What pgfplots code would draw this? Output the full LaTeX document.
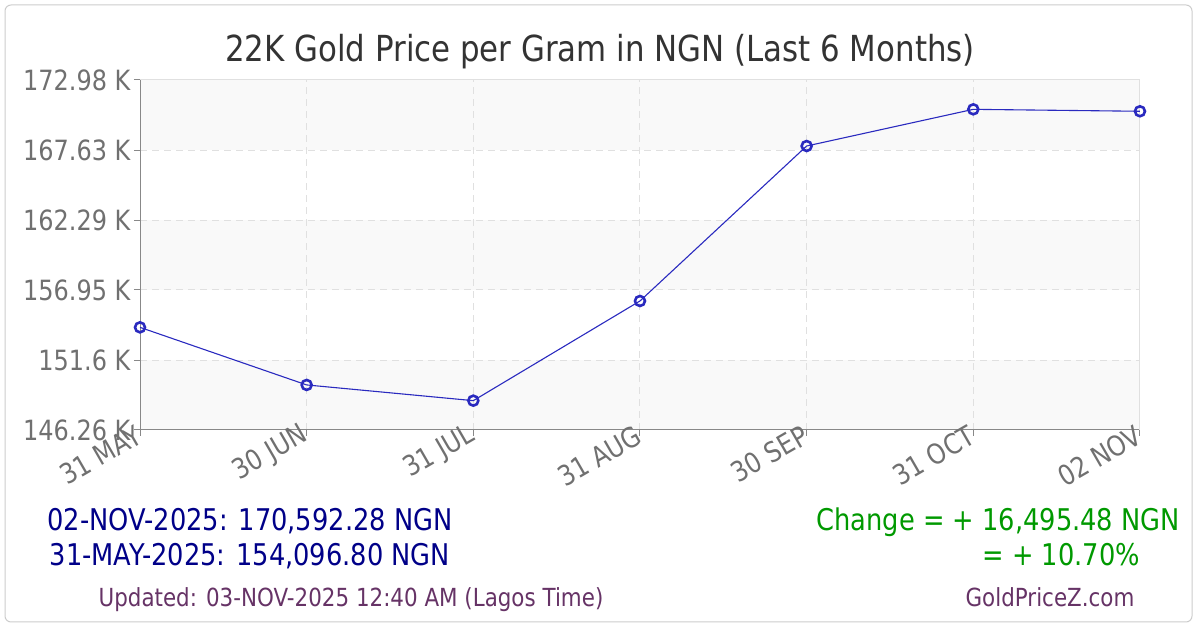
\documentclass[border=0pt]{standalone}
\usepackage{pgfplots}
\pgfplotsset{compat=1.18}
\usepackage{fontspec}
\setmainfont{DejaVu Sans}[FakeStretch=0.86]

\definecolor{ticktext}{HTML}{707070}
\definecolor{titletext}{HTML}{333333}
\definecolor{bandgray}{HTML}{F9F9F9}
\definecolor{gridgray}{HTML}{E0E0E0}
\definecolor{axisgray}{HTML}{888888}
\definecolor{framegray}{HTML}{CCCCCC}
\definecolor{linecol}{HTML}{2A2ABF}
\definecolor{navytext}{HTML}{000088}
\definecolor{greentext}{HTML}{009900}
\definecolor{purpletext}{HTML}{663366}

\pgfplotstableread{
x price
0 154.0968
1 149.70
2 148.50
3 156.11
4 167.94
5 170.74
6 170.5923
}\goldprice

\pgfplotsset{
  goldframe/.style={
    at={(140bp,200bp)}, anchor=south west,
    scale only axis,
    width=1000bp, height=350bp,
    xmin=0, xmax=6,
    ymin=146.26, ymax=172.98,
  },
}

\begin{document}
\begin{tikzpicture}
  \path[use as bounding box] (0,0) rectangle (1200bp,630bp);
  \draw[framegray, line width=1bp, rounded corners=6bp] (5bp,8bp) rectangle (1192bp,625bp);

  \node[anchor=base, text=titletext, font=\fontsize{36}{40}\selectfont]
    at (600bp,568bp) {22K Gold Price per Gram in NGN (Last 6 Months)};

  % background bands, drawn first so the grid lies over them
  \begin{axis}[goldframe, hide axis]
    \fill[bandgray] (axis cs:0,167.63) rectangle (axis cs:6,172.98);
    \fill[bandgray] (axis cs:0,156.95) rectangle (axis cs:6,162.29);
    \fill[bandgray] (axis cs:0,146.26) rectangle (axis cs:6,151.6);
  \end{axis}

  \begin{axis}[
    goldframe,
    clip=false,
    axis lines*=left,
    axis line style={axisgray, line width=1bp},
    xtick={0,1,2,3,4,5,6},
    xticklabels={31 MAY,30 JUN,31 JUL,31 AUG,30 SEP,31 OCT,02 NOV},
    ytick={146.26,151.6,156.95,162.29,167.63,172.98},
    yticklabels={146.26 K,151.6 K,156.95 K,162.29 K,167.63 K,172.98 K},
    tick align=outside,
    major tick length=6bp,
    tick style={axisgray, line width=1bp},
    xticklabel style={rotate=30, anchor=east, text=ticktext,
      font=\fontsize{28}{30}\selectfont, yshift=3bp, xshift=4bp},
    yticklabel style={text=ticktext, font=\fontsize{28}{30}\selectfont},
    grid=major,
    major grid style={gridgray, line width=1bp, dash pattern=on 7bp off 5bp},
  ]
    \draw[gridgray, line width=1bp]
      (axis cs:0,172.98) -- (axis cs:6,172.98) -- (axis cs:6,146.26);

    \addplot[linecol, line width=1.1bp, mark=o, mark size=5bp,
      mark options={line width=2.6bp, solid}] table[x=x, y=price] {\goldprice};
  \end{axis}

  \node[anchor=base, text=navytext, font=\fontsize{30}{32}\selectfont]
    at (250bp,99bp) {02-NOV-2025: 170,592.28 NGN};
  \node[anchor=base, text=navytext, font=\fontsize{30}{32}\selectfont]
    at (250bp,64bp) {31-MAY-2025: 154,096.80 NGN};
  \node[anchor=base east, text=greentext, font=\fontsize{30}{32}\selectfont, inner sep=0pt]
    at (1180bp,99bp) {Change = + 16,495.48 NGN};
  \node[anchor=base east, text=greentext, font=\fontsize{30}{32}\selectfont, inner sep=0pt]
    at (1140bp,64bp) {= + 10.70\%};
  \node[anchor=base, text=purpletext, font=\fontsize{25}{28}\selectfont]
    at (351bp,24bp) {Updated: 03-NOV-2025 12:40 AM (Lagos Time)};
  \node[anchor=base, text=purpletext, font=\fontsize{25}{28}\selectfont]
    at (1050bp,24bp) {GoldPriceZ.com};
\end{tikzpicture}
\end{document}
